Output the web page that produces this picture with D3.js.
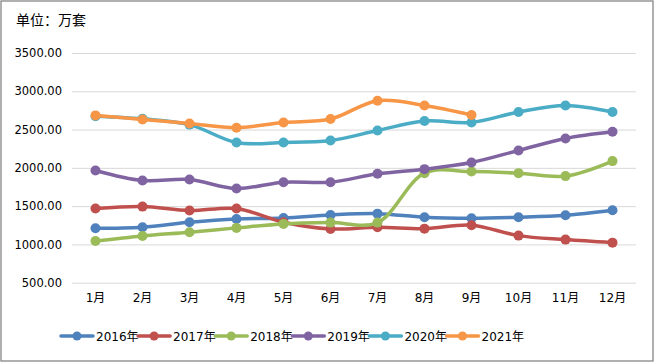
<!DOCTYPE html>
<html>
<head>
<meta charset="utf-8">
<script src="https://cdn.jsdelivr.net/npm/d3@7"></script>
<style>
  html, body { margin: 0; padding: 0; background: #fff; }
  text { font-family: "DejaVu Sans", "Noto Sans CJK SC", sans-serif; fill: #000; }
</style>
</head>
<body>
<div id="container"></div>
<script>
"use strict";

const months = ["1月", "2月", "3月", "4月", "5月", "6月", "7月", "8月", "9月", "10月", "11月", "12月"];
const yTicks = [500, 1000, 1500, 2000, 2500, 3000, 3500];
const seriesNames = ["2016年", "2017年", "2018年", "2019年", "2020年", "2021年"];
const seriesColors = ["#4F81BD", "#C0504D", "#9BBB59", "#8064A2", "#4BACC6", "#F79646"];

const v2016 = [1211, 1225, 1290, 1333, 1346, 1385, 1402, 1355, 1342, 1355, 1381, 1447];
const v2017 = [1468, 1494, 1442, 1468, 1290, 1202, 1225, 1206, 1251, 1115, 1063, 1023];
const v2018 = [1045, 1111, 1159, 1216, 1268, 1285, 1285, 1931, 1952, 1931, 1892, 2088];
const v2019 = [1965, 1834, 1847, 1730, 1813, 1813, 1922, 1983, 2070, 2227, 2384, 2471];
const v2020 = [2675, 2640, 2565, 2331, 2331, 2357, 2488, 2611, 2593, 2729, 2815, 2729];
const v2021 = [2685, 2632, 2580, 2524, 2593, 2637, 2877, 2815, 2690];

const seriesValues = [v2016, v2017, v2018, v2019, v2020, v2021];

const width = 655;
const height = 362;
const margin = { top: 53, right: 19, bottom: 79, left: 72 };

const svg = d3.create("svg").attr("width", width).attr("height", height);
d3.select("#container").append(() => svg.node());

// Outer frame.
svg
  .append("rect")
  .attr("x", 1)
  .attr("y", 1)
  .attr("width", 652)
  .attr("height", 360)
  .attr("fill", "#fff")
  .attr("stroke", "#868686")
  .attr("stroke-width", 1.3);

const x = d3
  .scaleBand()
  .domain(months)
  .range([margin.left, width - margin.right])
  .paddingInner(0)
  .paddingOuter(0);

const y = d3
  .scaleLinear()
  .domain([500, 3500])
  .range([height - margin.bottom - 0.3, margin.top]);

// Gridlines + y labels.
const yAxis = d3
  .axisLeft(y)
  .tickValues(yTicks)
  .tickFormat(d3.format(".2f"))
  .tickSize(-(width - margin.left - margin.right))
  .tickPadding(10);

svg
  .append("g")
  .attr("transform", `translate(${margin.left}, 0)`)
  .style("font-size", "11.5px")
  .call(yAxis)
  .call((g) => g.select(".domain").remove())
  .call((g) => g.selectAll("line").attr("stroke", "#d9d9d9").attr("stroke-width", 1))
  .call((g) => g.selectAll("text").attr("fill", "#000").style("font-family", "DejaVu Sans"));

// x labels.
const xAxis = d3.axisBottom(x).tickSize(0).tickPadding(11);
svg
  .append("g")
  .attr("transform", `translate(0, ${y(500)})`)
  .style("font-size", "12px")
  .call(xAxis)
  .call((g) => g.select(".domain").remove())
  .call((g) => g.selectAll("text").attr("fill", "#000").style("font-family", "DejaVu Sans, Noto Sans CJK SC"));

const cx = (i) => x(months[i]) + x.bandwidth() / 2;

const line = d3
  .line()
  .x((d, i) => cx(i))
  .y((d) => y(d))
  .curve(d3.curveCatmullRom.alpha(0.5));

seriesValues.forEach((vals, s) => {
  const g = svg.append("g");
  g.append("path")
    .datum(vals)
    .attr("fill", "none")
    .attr("stroke", seriesColors[s])
    .attr("stroke-width", 3.5)
    .attr("stroke-linejoin", "round")
    .attr("stroke-linecap", "round")
    .attr("d", line);
  g.selectAll("circle")
    .data(vals)
    .enter()
    .append("circle")
    .attr("cx", (d, i) => cx(i))
    .attr("cy", (d) => y(d))
    .attr("r", 5)
    .attr("fill", seriesColors[s]);
});

// Title.
svg
  .append("text")
  .attr("x", 16)
  .attr("y", 25)
  .style("font-family", "Noto Sans CJK SC")
  .style("font-size", "14px")
  .text("单位：万套");

// Legend.
const legend = svg.append("g").attr("transform", "translate(61, 336)");
seriesNames.forEach((name, s) => {
  const item = legend.append("g").attr("transform", `translate(${s * 77.1}, 0)`);
  item
    .append("line")
    .attr("x1", 0)
    .attr("x2", 32)
    .attr("stroke", seriesColors[s])
    .attr("stroke-width", 3.5)
    .attr("stroke-linecap", "round");
  item.append("circle").attr("cx", 16).attr("r", 4.5).attr("fill", seriesColors[s]);
  item
    .append("text")
    .attr("x", 35)
    .attr("y", 4.5)
    .style("font-size", "12px")
    .style("font-family", "DejaVu Sans, Noto Sans CJK SC")
    .text(name);
});
</script>
</body>
</html>
